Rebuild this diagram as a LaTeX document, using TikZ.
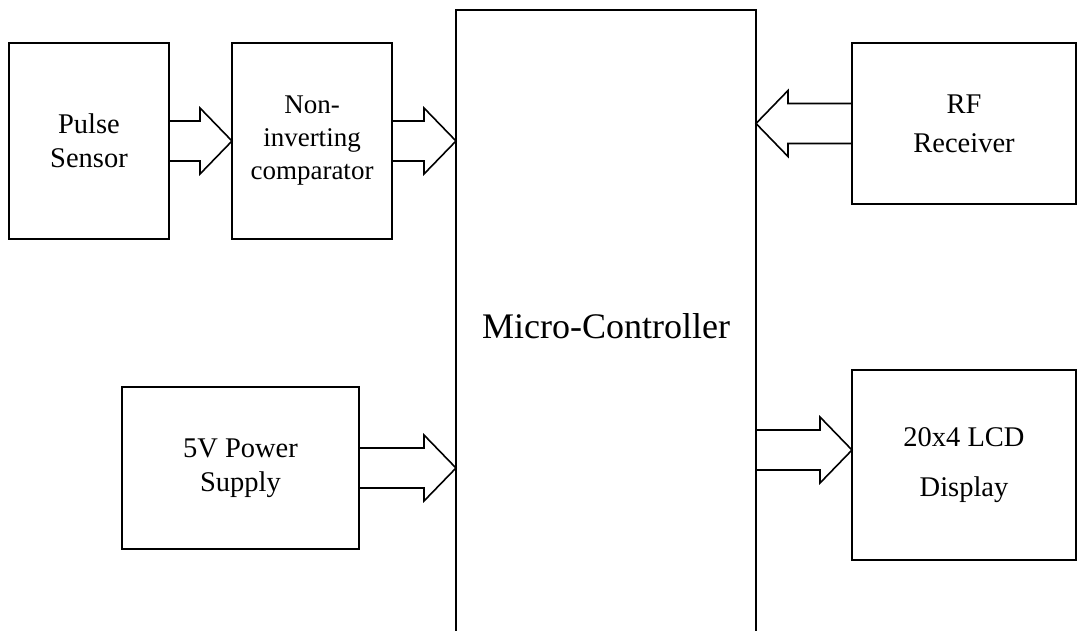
\documentclass[tikz,border=0pt]{standalone}
\usepackage{fontspec}
\setmainfont{Liberation Serif}
\usetikzlibrary{calc}

\tikzset{
  block/.style={draw, line width=1.6pt, rectangle, outer sep=0pt, align=center,
    font=\fontsize{28.5}{34}\selectfont},
  blockarrow/.style={draw, line width=1.6pt, line join=miter}
}

% block arrow: shaft starts at #1, tip at #2 (same height), #3 = 1 right, -1 left
\newcommand{\barrow}[3]{%
  \draw[blockarrow] ($(#1)+(0,-20)$) -- ($(#2)+(-32*#3,-20)$) -- ($(#2)+(-32*#3,-33)$)
    -- (#2) -- ($(#2)+(-32*#3,33)$) -- ($(#2)+(-32*#3,20)$) -- ($(#1)+(0,20)$);}

\begin{document}
\begin{tikzpicture}[x=1pt, y=-1pt]
  \useasboundingbox (0,0) rectangle (1086,630);
  \clip (0,0) rectangle (1086,630);
  % Blocks
  \node[block, minimum width=160, minimum height=196] (pulse) at (89,141) {Pulse\\Sensor};
  \node[block, minimum width=160, minimum height=196,
    font=\fontsize{27}{33}\selectfont] (comp) at (312,141) {Non-\\inverting\\comparator};
  \node[block, minimum width=300, minimum height=632,
    font=\fontsize{36}{40}\selectfont] (micro) at (606,326) {Micro-Controller};
  \node[block, minimum width=224, minimum height=161] (rf) at (964,123.5) {RF\\[5pt]Receiver};
  \node[block, minimum width=237, minimum height=162] (power) at (240.5,468) {5V Power\\Supply};
  \node[block, minimum width=224, minimum height=190] (lcd) at (964,465) {20x4 LCD\\[16pt]Display};
  % Arrows
  \coordinate (lcdin) at ($(lcd.west)+(0,-15)$);
  \barrow{pulse.east}{comp.west}{1}
  \barrow{comp.east}{micro.west |- comp.east}{1}
  \barrow{rf.west}{micro.east |- rf.west}{-1}
  \barrow{power.east}{micro.west |- power.east}{1}
  \barrow{micro.east |- lcdin}{lcdin}{1}
\end{tikzpicture}
\end{document}
